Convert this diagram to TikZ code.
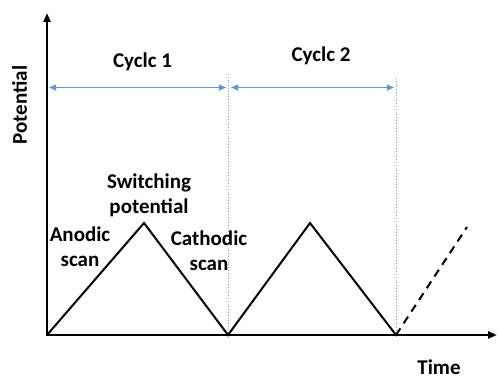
\documentclass[tikz,border=0pt]{standalone}
\usepackage{fontspec}
\setmainfont{Carlito}
\usetikzlibrary{arrows.meta}
\definecolor{spanc}{RGB}{91,155,213}
\definecolor{guidec}{RGB}{130,155,190}
\begin{document}
\begin{tikzpicture}[x=1pt,y=-1pt]
\tikzset{
 lbl/.style={font=\bfseries\fontsize{21}{25}\selectfont, align=center, inner sep=0pt},
 axis/.style={line width=2.4pt, -{Triangle[length=9pt,width=7pt]}},
 wave/.style={line width=2pt, line join=miter},
 ext/.style={line width=2pt, dash pattern=on 8pt off 6pt},
 guide/.style={draw=guidec, line width=0.8pt, dotted},
 span/.style={draw=spanc, line width=1.2pt, {Triangle[length=7pt,width=6pt]}-{Triangle[length=7pt,width=6pt]}}
}
\useasboundingbox (0,0) rectangle (498,379);
% key points
\coordinate (O) at (47,335);
\coordinate (Ob) at (47,336.2);
\coordinate (Ol) at (45.8,335);
\coordinate (Ytip) at (47,13);
\coordinate (Xtip) at (497,335);
\coordinate (P1) at (144,223);
\coordinate (V1) at (228,335);
\coordinate (P2) at (310,223);
\coordinate (V2) at (396,335);
\coordinate (D) at (467,227);
\coordinate (G1t) at (228,74);
\coordinate (G1b) at (228,338);
\coordinate (G2t) at (396,78);
\coordinate (G2b) at (396,338);
\coordinate (A1s) at (49,87.5);
\coordinate (A1e) at (226,87.5);
\coordinate (A2s) at (231,87.5);
\coordinate (A2e) at (394,87.5);
% guides
\draw[guide] (G1t) -- (G1b);
\draw[guide] (G2t) -- (G2b);
\draw[span] (A1s) -- (A1e);
\draw[span] (A2s) -- (A2e);
% waveform
\draw[wave] (O) -- (P1) -- (V1) -- (P2) -- (V2);
\draw[ext] (V2) -- (D);
% axes
\draw[axis] (Ob) -- (Ytip);
\draw[axis] (Ol) -- (Xtip);
% labels
\node[lbl, anchor=base] (c1) at (142.5,68) {Cyclc 1};
\node[lbl, anchor=base] (c2) at (321,62) {Cyclc 2};
\node[lbl] (sw) at (149,195) {Switching\\potential};
\node[lbl] (an) at (80,247) {Anodic\\scan};
\node[lbl] (ca) at (209,250.5) {Cathodic\\scan};
\node[lbl, anchor=base] (tm) at (439,374) {Time};
\node[lbl, anchor=base, rotate=90] (pt) at (27,105) {Potential};
\end{tikzpicture}
\end{document}
